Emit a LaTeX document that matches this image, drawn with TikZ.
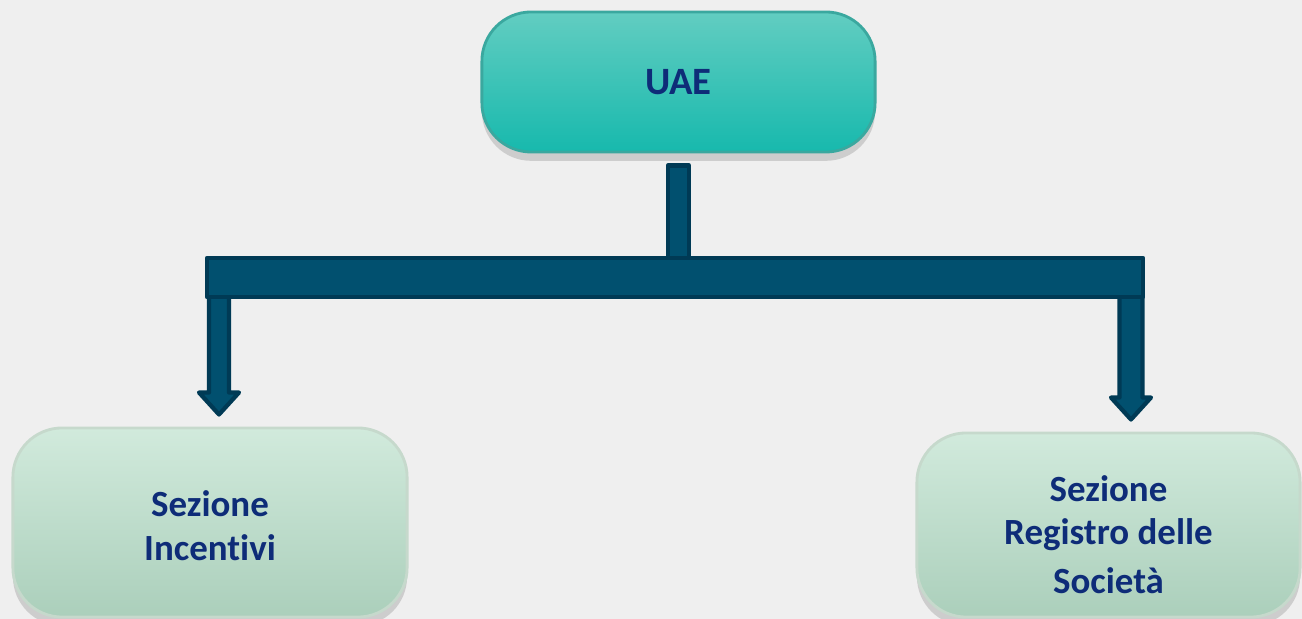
\documentclass[tikz,border=0pt]{standalone}
\usepackage{fontspec}
\setmainfont{Carlito}[Ligatures=NoCommon]
\usetikzlibrary{positioning,calc,shadows}

\definecolor{bgcol}{HTML}{EFEFEF}
\definecolor{tealtop}{HTML}{62CDC1}
\definecolor{tealbot}{HTML}{17B9AD}
\definecolor{tealline}{HTML}{3AA89F}
\definecolor{greentop}{HTML}{D1EADC}
\definecolor{greenbot}{HTML}{ABCFBB}
\definecolor{greenline}{HTML}{C6D9CC}
\definecolor{barfill}{HTML}{01506F}
\definecolor{barline}{HTML}{003A55}
\definecolor{navy}{HTML}{0E2C78}

\tikzset{
  >={stealth},
  box/.style={rounded corners=14pt, line width=0.8pt, align=center,
    text=navy, font=\bfseries\fontsize{10.5}{12.6}\selectfont,
    drop shadow={shadow xshift=0pt, shadow yshift=-2.5pt, opacity=0.3}},
  topbox/.style={box, draw=tealline, top color=tealtop, bottom color=tealbot,
    font=\bfseries\fontsize{11}{13}\selectfont},
  subbox/.style={box, draw=greenline, top color=greentop, bottom color=greenbot},
  bar/.style={fill=barfill, draw=barline, line width=1.2pt, line join=round}
}

\begin{document}
\begin{tikzpicture}[x=0.01cm,y=-0.01cm]
	\useasboundingbox[fill=bgcol] (0,0) rectangle (1302,619);

	% boxes
	\node[topbox, minimum width=3.93cm, minimum height=1.4cm] (uae) at (678.5,82) {UAE};
	\node[subbox, minimum width=3.94cm, minimum height=1.89cm] (inc) at (210,522.5)
		{\rule{0pt}{9pt}Sezione\\Incentivi};
	\node[subbox, minimum width=3.83cm, minimum height=1.84cm, font=\bfseries\fontsize{10.5}{12.2}\selectfont]
		(reg) at (1108.5,525)
		{\rule{0pt}{13pt}Sezione\\Registro delle\\[1.8pt]Società};

	% stub under UAE
	\draw[bar] ($(uae.south)+(-10.5,12)$) rectangle ($(uae.south)+(10.5,105)$);

	% arrows down to the sections
	\coordinate (lft) at (219,297);
	\coordinate (rgt) at (1131,297);
	\foreach \c/\t/\w in {lft/inc/10, rgt/reg/11.5}{
		\coordinate (tip) at ($(\c |- \t.north)+(0,-12)$);
		\draw[bar] ($(\c)+(-\w,-2)$) -- ($(\c)+(\w,-2)$) -- ($(tip)+(\w,-22)$)
			-- ($(tip)+(20,-22)$) -- (tip) -- ($(tip)+(-20,-22)$)
			-- ($(tip)+(-\w,-22)$) -- cycle;
	}

	% bar
	\draw[bar] ($(lft)+(-12,-39)$) rectangle ($(rgt)+(12,0)$);
\end{tikzpicture}
\end{document}
